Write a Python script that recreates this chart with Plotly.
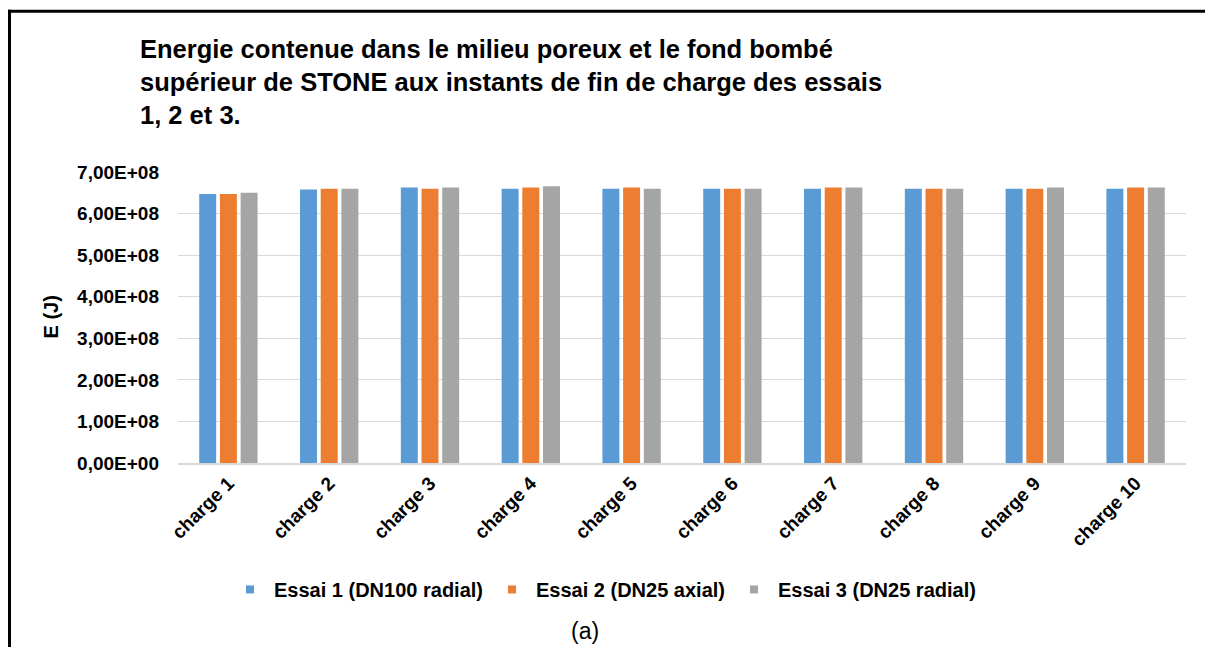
import plotly.graph_objects as go

categories = ["charge 1", "charge 2", "charge 3", "charge 4", "charge 5",
              "charge 6", "charge 7", "charge 8", "charge 9", "charge 10"]
essai1 = [6.47e8, 6.58e8, 6.63e8, 6.60e8, 6.60e8, 6.60e8, 6.60e8, 6.60e8, 6.60e8, 6.60e8]
essai2 = [6.47e8, 6.60e8, 6.60e8, 6.63e8, 6.63e8, 6.60e8, 6.63e8, 6.60e8, 6.60e8, 6.63e8]
essai3 = [6.50e8, 6.60e8, 6.63e8, 6.66e8, 6.60e8, 6.60e8, 6.63e8, 6.60e8, 6.63e8, 6.63e8]
series_names = ["Essai 1 (DN100 radial)", "Essai 2 (DN25 axial)", "Essai 3 (DN25 radial)"]
colors = ["#5B9BD5", "#ED7D31", "#A5A5A5"]
y_tickvals = [0, 1e8, 2e8, 3e8, 4e8, 5e8, 6e8, 7e8]
y_ticktext = ["0,00E+00", "1,00E+08", "2,00E+08", "3,00E+08", "4,00E+08",
              "5,00E+08", "6,00E+08", "7,00E+08"]

OFF = 8  # page body margin offset
W, H = 1213 - 2 * OFF, 655 - 2 * OFF  # fit inside the window, no scrollbars
# desired page-pixel positions
P_LEFT, P_RIGHT, P_TOP, P_BOTTOM = 178, 1186, 171.7, 463.3
L = P_LEFT - OFF
R = W - (P_RIGHT - OFF)
T = P_TOP - OFF
B = H - (P_BOTTOM - OFF)
pw, ph = W - L - R, H - T - B

def px(x):
    return (x - P_LEFT) / pw

def py(y):
    return (P_BOTTOM - y) / ph

font = "Liberation Sans, Arial, sans-serif"
fig = go.Figure()
for name, vals, c in zip(series_names, [essai1, essai2, essai3], colors):
    fig.add_trace(go.Bar(x=categories, y=vals, name=name, marker_color=c,
                         marker_line_width=0, showlegend=False))
    fig.add_trace(go.Scatter(x=[None], y=[None], mode="markers", name=name,
                             marker=dict(symbol="square", size=8, color=c)))

fig.update_layout(
    width=W, height=H,
    margin=dict(l=L, r=R, t=T, b=B),
    paper_bgcolor="white", plot_bgcolor="white",
    barmode="group", bargap=0.384, bargroupgap=0.18,
    font=dict(family=font, color="black"),
    showlegend=True,
    legend=dict(orientation="h", x=px(226), xanchor="left", y=py(590), yanchor="middle",
                font=dict(size=20, family=font, color="black", weight="bold"),
                itemwidth=38, tracegroupgap=0),
    xaxis=dict(tickangle=-45, showgrid=False, showline=True, linecolor="#D9D9D9",
               linewidth=1.5, ticks="",
               tickfont=dict(size=19, family=font, color="black", weight="bold")),
    yaxis=dict(range=[0, 7e8], tickvals=y_tickvals, ticktext=y_ticktext,
               showgrid=True, gridcolor="#D9D9D9", gridwidth=1, zeroline=False,
               showline=False, ticks="", ticklabelstandoff=18,
               tickfont=dict(size=19, family=font, color="black", weight="bold")),
)

fig.add_annotation(xref="paper", yref="paper", x=px(50), y=0.5, text="E (J)",
                   textangle=-90, showarrow=False, xanchor="center", yanchor="middle",
                   font=dict(size=20, family=font, color="black", weight="bold"))

fig.add_annotation(xref="paper", yref="paper", x=px(138), y=py(32), xanchor="left",
                   yanchor="top", align="left", showarrow=False,
                   text="Energie contenue dans le milieu poreux et le fond bombé<br>"
                        "supérieur de STONE aux instants de fin de charge des essais<br>"
                        "1, 2 et 3.",
                   font=dict(size=25.5, family=font, color="black", weight="bold"))

fig.add_annotation(xref="paper", yref="paper", x=px(585), y=py(632), xanchor="center",
                   yanchor="middle", showarrow=False, text="(a)",
                   font=dict(size=23, family=font, color="black"))

# frame: top and left edges only (right/bottom lie outside the picture)
fig.add_shape(type="line", xref="paper", yref="paper",
              x0=px(8), x1=px(1205), y0=py(10.5), y1=py(10.5),
              line=dict(color="black", width=3), layer="above")
fig.add_shape(type="line", xref="paper", yref="paper",
              x0=px(9.5), x1=px(9.5), y0=py(9), y1=py(650),
              line=dict(color="black", width=3), layer="above")

fig.write_html("out.html")
